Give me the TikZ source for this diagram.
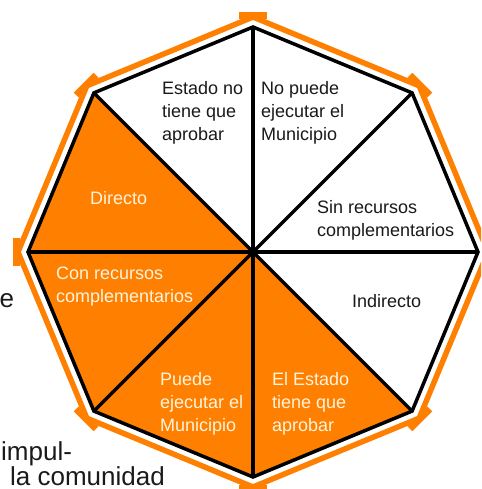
\documentclass[tikz,border=0pt]{standalone}
\usepackage{fontspec}
\setmainfont{Liberation Sans}
\definecolor{oct}{HTML}{FF7F00}
\definecolor{cream}{HTML}{FFF4DC}
\definecolor{ink}{HTML}{1A1A1A}
\tikzset{
  lbl/.style={anchor=base west, inner sep=0pt, align=left, font=\fontsize{18}{23}\selectfont, text=ink},
  lblo/.style={lbl, text=cream},
  stray/.style={anchor=base west, inner sep=0pt, font=\fontsize{26}{30}\selectfont, text=ink},
  spoke/.style={line width=3.5pt, draw=black},
  border/.style={line width=5.5pt, draw=oct, line join=miter}
}
\begin{document}
\begin{tikzpicture}[x=1pt,y=1pt]
\useasboundingbox (-253,-237) rectangle (228,252);
\clip (-253,-237) rectangle (228,252);
% stray background text
\node[stray] (s1) at (-253.5,-56) {e};
\node[stray] (s2) at (-252,-208) {impul-};
\node[stray] (s3) at (-243,-233) {la comunidad};
% sectors
\def\R{225}
\fill[white] (90:\R) -- (45:\R) -- (0:\R) -- (-45:\R) -- (-90:\R) -- (-135:\R) -- (180:\R) -- (135:\R) -- cycle;
\fill[oct] (0,0) -- (135:\R) -- (180:\R) -- (225:\R) -- (270:\R) -- (315:\R) -- cycle;
% orange border
\draw[border] (90:235) -- (45:235) -- (0:235) -- (-45:235) -- (-90:235) -- (-135:235) -- (180:235) -- (135:235) -- cycle;
\foreach \a in {0,45,...,315} {
  \fill[oct, rotate=\a] (232.5,-14) rectangle (239.5,14);
}
% spokes
\foreach \a in {0,45,...,315} {
  \draw[spoke] (0,0) -- (\a:\R);
}
\draw[spoke, line join=miter] (90:\R) -- (45:\R) -- (0:\R) -- (-45:\R) -- (-90:\R) -- (-135:\R) -- (180:\R) -- (135:\R) -- cycle;
% labels (anchor = baseline of last line)
\node[lbl] (t1) at (-91,111) {Estado no\\tiene que\\aprobar};
\node[lbl] (t2) at (8,111) {No puede\\ejecutar el\\Municipio};
\node[lbl] (t3) at (64,15) {Sin recursos\\complementarios};
\node[lbl] (t4) at (99,-56) {Indirecto};
\node[lblo] (t5) at (19,-179) {El Estado\\tiene que\\aprobar};
\node[lblo] (t6) at (-93,-179) {Puede\\ejecutar el\\Municipio};
\node[lblo] (t7) at (-197,-51) {Con recursos\\complementarios};
\node[lblo] (t8) at (-163,47) {Directo};
\end{tikzpicture}
\end{document}
